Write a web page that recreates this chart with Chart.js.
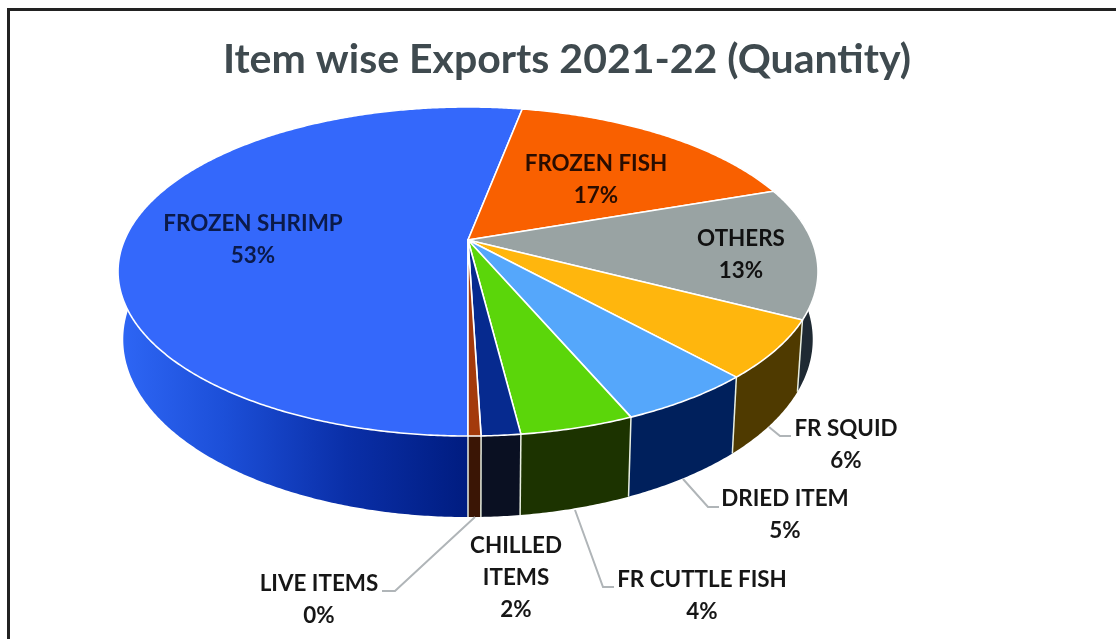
<!DOCTYPE html>
<html>
<head>
<meta charset="utf-8">
<title>Item wise Exports 2021-22 (Quantity)</title>
<script src="https://cdn.jsdelivr.net/npm/chart.js@4/dist/chart.umd.min.js"></script>
<style>
  html, body { margin: 0; padding: 0; background: #fff; overflow: hidden; }
  #wrap { position: relative; width: 1116px; height: 639px; }
  #frame { position: absolute; left: 7px; top: 8px; right: 0; bottom: 0;
           border-left: 3px solid #222; border-top: 3px solid #222; pointer-events: none; }
</style>
</head>
<body>
<div id="wrap">
  <canvas id="myChart" width="1116" height="639"></canvas>
  <div id="frame"></div>
</div>
<script>
const categories = ["FROZEN SHRIMP", "FROZEN FISH", "OTHERS", "FR SQUID", "DRIED ITEM", "FR CUTTLE FISH", "CHILLED ITEMS", "LIVE ITEMS"];
const shares = [53.0, 16.7, 12.9, 5.7, 5.3, 4.4, 1.5, 0.49];
const topColors = ["#3468fb", "#f96000", "#99a3a3", "#ffb60d", "#55a7fb", "#5bd60a", "#062a8f", "#a33a0c"];
const wallColors = ["#001c80", "#7a3000", "#1f2a33", "#4f3a00", "#00205c", "#1c3300", "#0a1022", "#3a1505"];

// where each label goes, with its leader line if it has one
const labelSpots = [
  { x: 253, y: 224, color: "#0b1a4a" },
  { x: 596, y: 164, color: "#2a0d00" },
  { x: 741, y: 239, color: "#111" },
  { x: 846, y: 429, leader: [[769, 427], [780, 436], [791, 436]] },
  { x: 785, y: 499, leader: [[683, 479], [708, 507], [719, 507]] },
  { x: 702, y: 580, leader: [[575, 510], [603, 587], [614, 587]] },
  { x: 516, y: 546, wrap: true },
  { x: 319, y: 584, leader: [[475, 517], [395, 591], [382, 591]] }
];

// tilted disc: apex of the pie, x/y radius terms, perspective and wall height
const disc = { x: 468, y: 240, a: 343.5, b: 158.5, k: 0.1915, depth: 65.5, shrink: 0.985 };

function project(angle, lift) {
  // angle is measured by chart.js, 0 sits at 3 o'clock
  const X = Math.cos(angle);
  const Y = -Math.sin(angle);
  const w = 1 + disc.k * Y;
  if (lift) {
    return [disc.x + disc.a * X / w * disc.shrink, disc.y - disc.b * Y / w + disc.depth / w];
  }
  return [disc.x + disc.a * X / w, disc.y - disc.b * Y / w];
}

function arcPoints(start, end, lift) {
  const pts = [];
  const steps = Math.max(2, Math.ceil((end - start) / 0.008));
  for (let i = 0; i <= steps; i++) {
    pts.push(project(start + (end - start) * i / steps, lift));
  }
  return pts;
}

function trace(ctx, pts) {
  // lineTo on an empty path acts as a moveTo
  pts.forEach(p => ctx.lineTo(p[0], p[1]));
}

function wallFill(ctx, i) {
  if (i !== 0) return wallColors[i];
  const g = ctx.createLinearGradient(120, 0, 468, 0);
  g.addColorStop(0, "#2e66f5");
  g.addColorStop(0.3, "#1c4fd8");
  g.addColorStop(0.65, "#0a2fa8");
  g.addColorStop(1, wallColors[0]);
  return g;
}

const pie3d = {
  id: "pie3d",
  beforeDatasetDraw(chart) {
    const ctx = chart.ctx;
    const arcs = chart.getDatasetMeta(0).data;
    ctx.save();

    // outer walls, far ones first so the front ones land on top
    const mid = j => (arcs[j].startAngle + arcs[j].endAngle) / 2;
    const order = arcs.map((a, i) => i).sort((p, q) => Math.sin(mid(p)) - Math.sin(mid(q)));
    order.forEach(i => {
      const { startAngle, endAngle } = arcs[i];
      ctx.beginPath();
      trace(ctx, arcPoints(startAngle, endAngle, false));
      trace(ctx, arcPoints(startAngle, endAngle, true).reverse());
      ctx.closePath();
      ctx.fillStyle = wallFill(ctx, i);
      ctx.fill();
    });
    // seams between the front walls
    arcs.forEach(arc => {
      ctx.beginPath();
      trace(ctx, [project(arc.startAngle, false), project(arc.startAngle, true)]);
      ctx.strokeStyle = "#e8eee0";
      ctx.lineWidth = 1.5;
      ctx.stroke();
    });

    // top face of the pie
    arcs.forEach((arc, i) => {
      ctx.beginPath();
      ctx.moveTo(disc.x, disc.y);
      trace(ctx, arcPoints(arc.startAngle, arc.endAngle, false));
      ctx.closePath();
      ctx.fillStyle = topColors[i];
      ctx.fill();
      ctx.strokeStyle = "#fff";
      ctx.lineWidth = 1.6;
      ctx.lineJoin = "round";
      ctx.stroke();
    });
    ctx.restore();
    return false;
  },
  afterDatasetsDraw(chart) {
    const ctx = chart.ctx;
    ctx.save();
    labelSpots.forEach((spot, i) => {
      if (spot.leader) {
        ctx.beginPath();
        trace(ctx, spot.leader);
        ctx.strokeStyle = "#b0b5b8";
        ctx.lineWidth = 2;
        ctx.stroke();
      }
      const lines = spot.wrap ? categories[i].split(" ") : [categories[i]];
      lines.push(Math.round(shares[i]) + "%");
      ctx.font = "bold 22.4px Lato";
      ctx.textAlign = "center";
      ctx.textBaseline = "middle";
      ctx.fillStyle = spot.color || "#161616";
      lines.forEach((t, n) => ctx.fillText(t, spot.x, spot.y + n * 32));
    });
    ctx.restore();
  }
};

new Chart(document.getElementById("myChart"), {
  type: "pie",
  data: {
    labels: categories,
    datasets: [{ data: shares, backgroundColor: topColors }]
  },
  options: {
    responsive: false,
    animation: false,
    rotation: 180,
    layout: { padding: { left: 18, top: 35 } },
    plugins: {
      legend: { display: false },
      tooltip: { enabled: false },
      title: {
        display: true,
        text: "Item wise Exports 2021-22 (Quantity)",
        color: "#3f4a4f",
        font: { family: "Lato", size: 41, weight: "bold" },
        padding: 0
      }
    }
  },
  plugins: [pie3d]
});
</script>
</body>
</html>
